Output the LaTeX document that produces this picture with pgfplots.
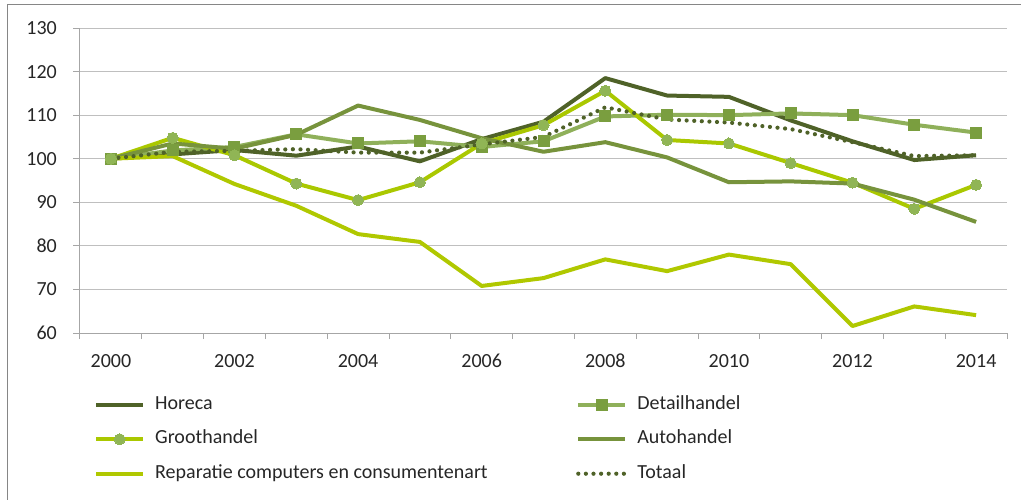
\documentclass[border=0pt]{standalone}
\usepackage{pgfplots}
\pgfplotsset{compat=1.18}
\usepackage{fontspec}
\setmainfont{Carlito}
\definecolor{horeca}{HTML}{4F6228}
\definecolor{detailL}{HTML}{8FB05A}
\definecolor{detailM}{HTML}{7A9E3F}
\definecolor{grootL}{HTML}{AAC800}
\definecolor{grootM}{HTML}{90B555}
\definecolor{autoc}{HTML}{77933C}
\definecolor{repar}{HTML}{B0C800}
\definecolor{gridc}{HTML}{BFBFBF}
\definecolor{axc}{HTML}{A6A6A6}
\definecolor{framec}{HTML}{868686}
\definecolor{txt}{HTML}{262626}
\begin{document}
\begin{tikzpicture}[font=\fontsize{20}{24}\selectfont]
\useasboundingbox (-80pt,-166pt) rectangle (941pt,333pt);
\draw[framec, line width=1pt] (-72pt,-170pt) -- (-72pt,328pt) -- (945pt,328pt);
\begin{axis}[
  scale only axis, width=927pt, height=305pt,
  xmin=1999.5, xmax=2014.5, ymin=60, ymax=130,
  axis x line*=bottom, axis y line*=left,
  axis line style={axc, line width=1pt, -},
  xtick={2000,2002,...,2014},
  xticklabels={2000,2002,2004,2006,2008,2010,2012,2014},
  major x tick style={draw=none},
  minor xtick={1999.5,2000.5,...,2014.5},
  minor x tick style={axc, line width=1pt},
  minor tick length=6pt,
  ytick={60,70,...,130},
  y tick style={axc, line width=1pt},
  major tick length=7pt,
  tick align=outside,
  ymajorgrids, grid style={gridc, line width=1pt},
  /pgf/number format/assume math mode=true,
  yticklabel style={inner sep=0pt, xshift=-16pt, text=txt},
  xticklabel style={inner sep=0pt, yshift=-14pt, text=txt},
  xticklabel style={/pgf/number format/1000 sep={}},
  legend columns=2,
  legend style={draw=none, fill=none, at={(0.0151,-0.2066)}, anchor=north west,
    inner sep=0pt, row sep=17.5pt, column sep=0pt,
    nodes={inner sep=0pt, text height=13pt, text depth=4pt, text=txt}},
  legend cell align=left,
  legend image code/.code={\draw[#1, mark repeat=2, mark phase=2] plot coordinates {(0pt,0pt) (23.5pt,0pt) (47pt,0pt)};},
  clip=false,
]
\addplot[horeca, line width=4pt, line join=round] coordinates {
(2000,100) (2001,101) (2002,102) (2003,100.7) (2004,102.8) (2005,99.4) (2006,104.5) (2007,108.5) (2008,118.5) (2009,114.5) (2010,114.2) (2011,108.8) (2012,104) (2013,99.7) (2014,100.8)};
\addlegendentry{\makebox[431pt][l]{\hspace*{10pt}Horeca}}
\addplot[detailL, line width=4pt, line join=round, mark=square*, mark size=5.5pt, mark options={fill=detailM, draw=detailM, line width=0pt}] coordinates {
(2000,100) (2001,101.9) (2002,102.7) (2003,105.6) (2004,103.5) (2005,104) (2006,102.7) (2007,104) (2008,109.7) (2009,110.1) (2010,110) (2011,110.4) (2012,110) (2013,107.8) (2014,106)};
\addlegendentry{\makebox[431pt][l]{\hspace*{10pt}Detailhandel}}
\addplot[grootL, line width=4pt, line join=round, mark=*, mark size=5.5pt, mark options={fill=grootM, draw=grootM, line width=0pt}] coordinates {
(2000,100) (2001,104.8) (2002,100.8) (2003,94.3) (2004,90.5) (2005,94.6) (2006,103.5) (2007,107.7) (2008,115.6) (2009,104.3) (2010,103.5) (2011,99) (2012,94.5) (2013,88.5) (2014,94)};
\addlegendentry{\makebox[431pt][l]{\hspace*{10pt}Groothandel}}
\addplot[autoc, line width=4pt, line join=round] coordinates {
(2000,100) (2001,103.5) (2002,102.3) (2003,105.5) (2004,112.2) (2005,108.9) (2006,104.7) (2007,101.6) (2008,103.8) (2009,100.3) (2010,94.6) (2011,94.8) (2012,94.3) (2013,90.6) (2014,85.5)};
\addlegendentry{\makebox[431pt][l]{\hspace*{10pt}Autohandel}}
\addplot[repar, line width=4pt, line join=round] coordinates {
(2000,100) (2001,100.6) (2002,94.2) (2003,89.2) (2004,82.7) (2005,80.9) (2006,70.8) (2007,72.6) (2008,76.9) (2009,74.2) (2010,78) (2011,75.8) (2012,61.6) (2013,66.1) (2014,64.1)};
\addlegendentry{\makebox[431pt][l]{\hspace*{10pt}Reparatie computers en consumentenart}}
\addplot[horeca, line width=4.2pt, line cap=round, dash pattern=on 0pt off 7.6pt] coordinates {
(2000,100) (2001,101.6) (2002,101.8) (2003,102.2) (2004,101.4) (2005,101.4) (2006,103.3) (2007,105) (2008,111.8) (2009,109) (2010,108.3) (2011,106.8) (2012,103.8) (2013,100.6) (2014,100.8)};
\addlegendentry{\makebox[431pt][l]{\hspace*{10pt}Totaal}}
\end{axis}
\end{tikzpicture}
\end{document}
